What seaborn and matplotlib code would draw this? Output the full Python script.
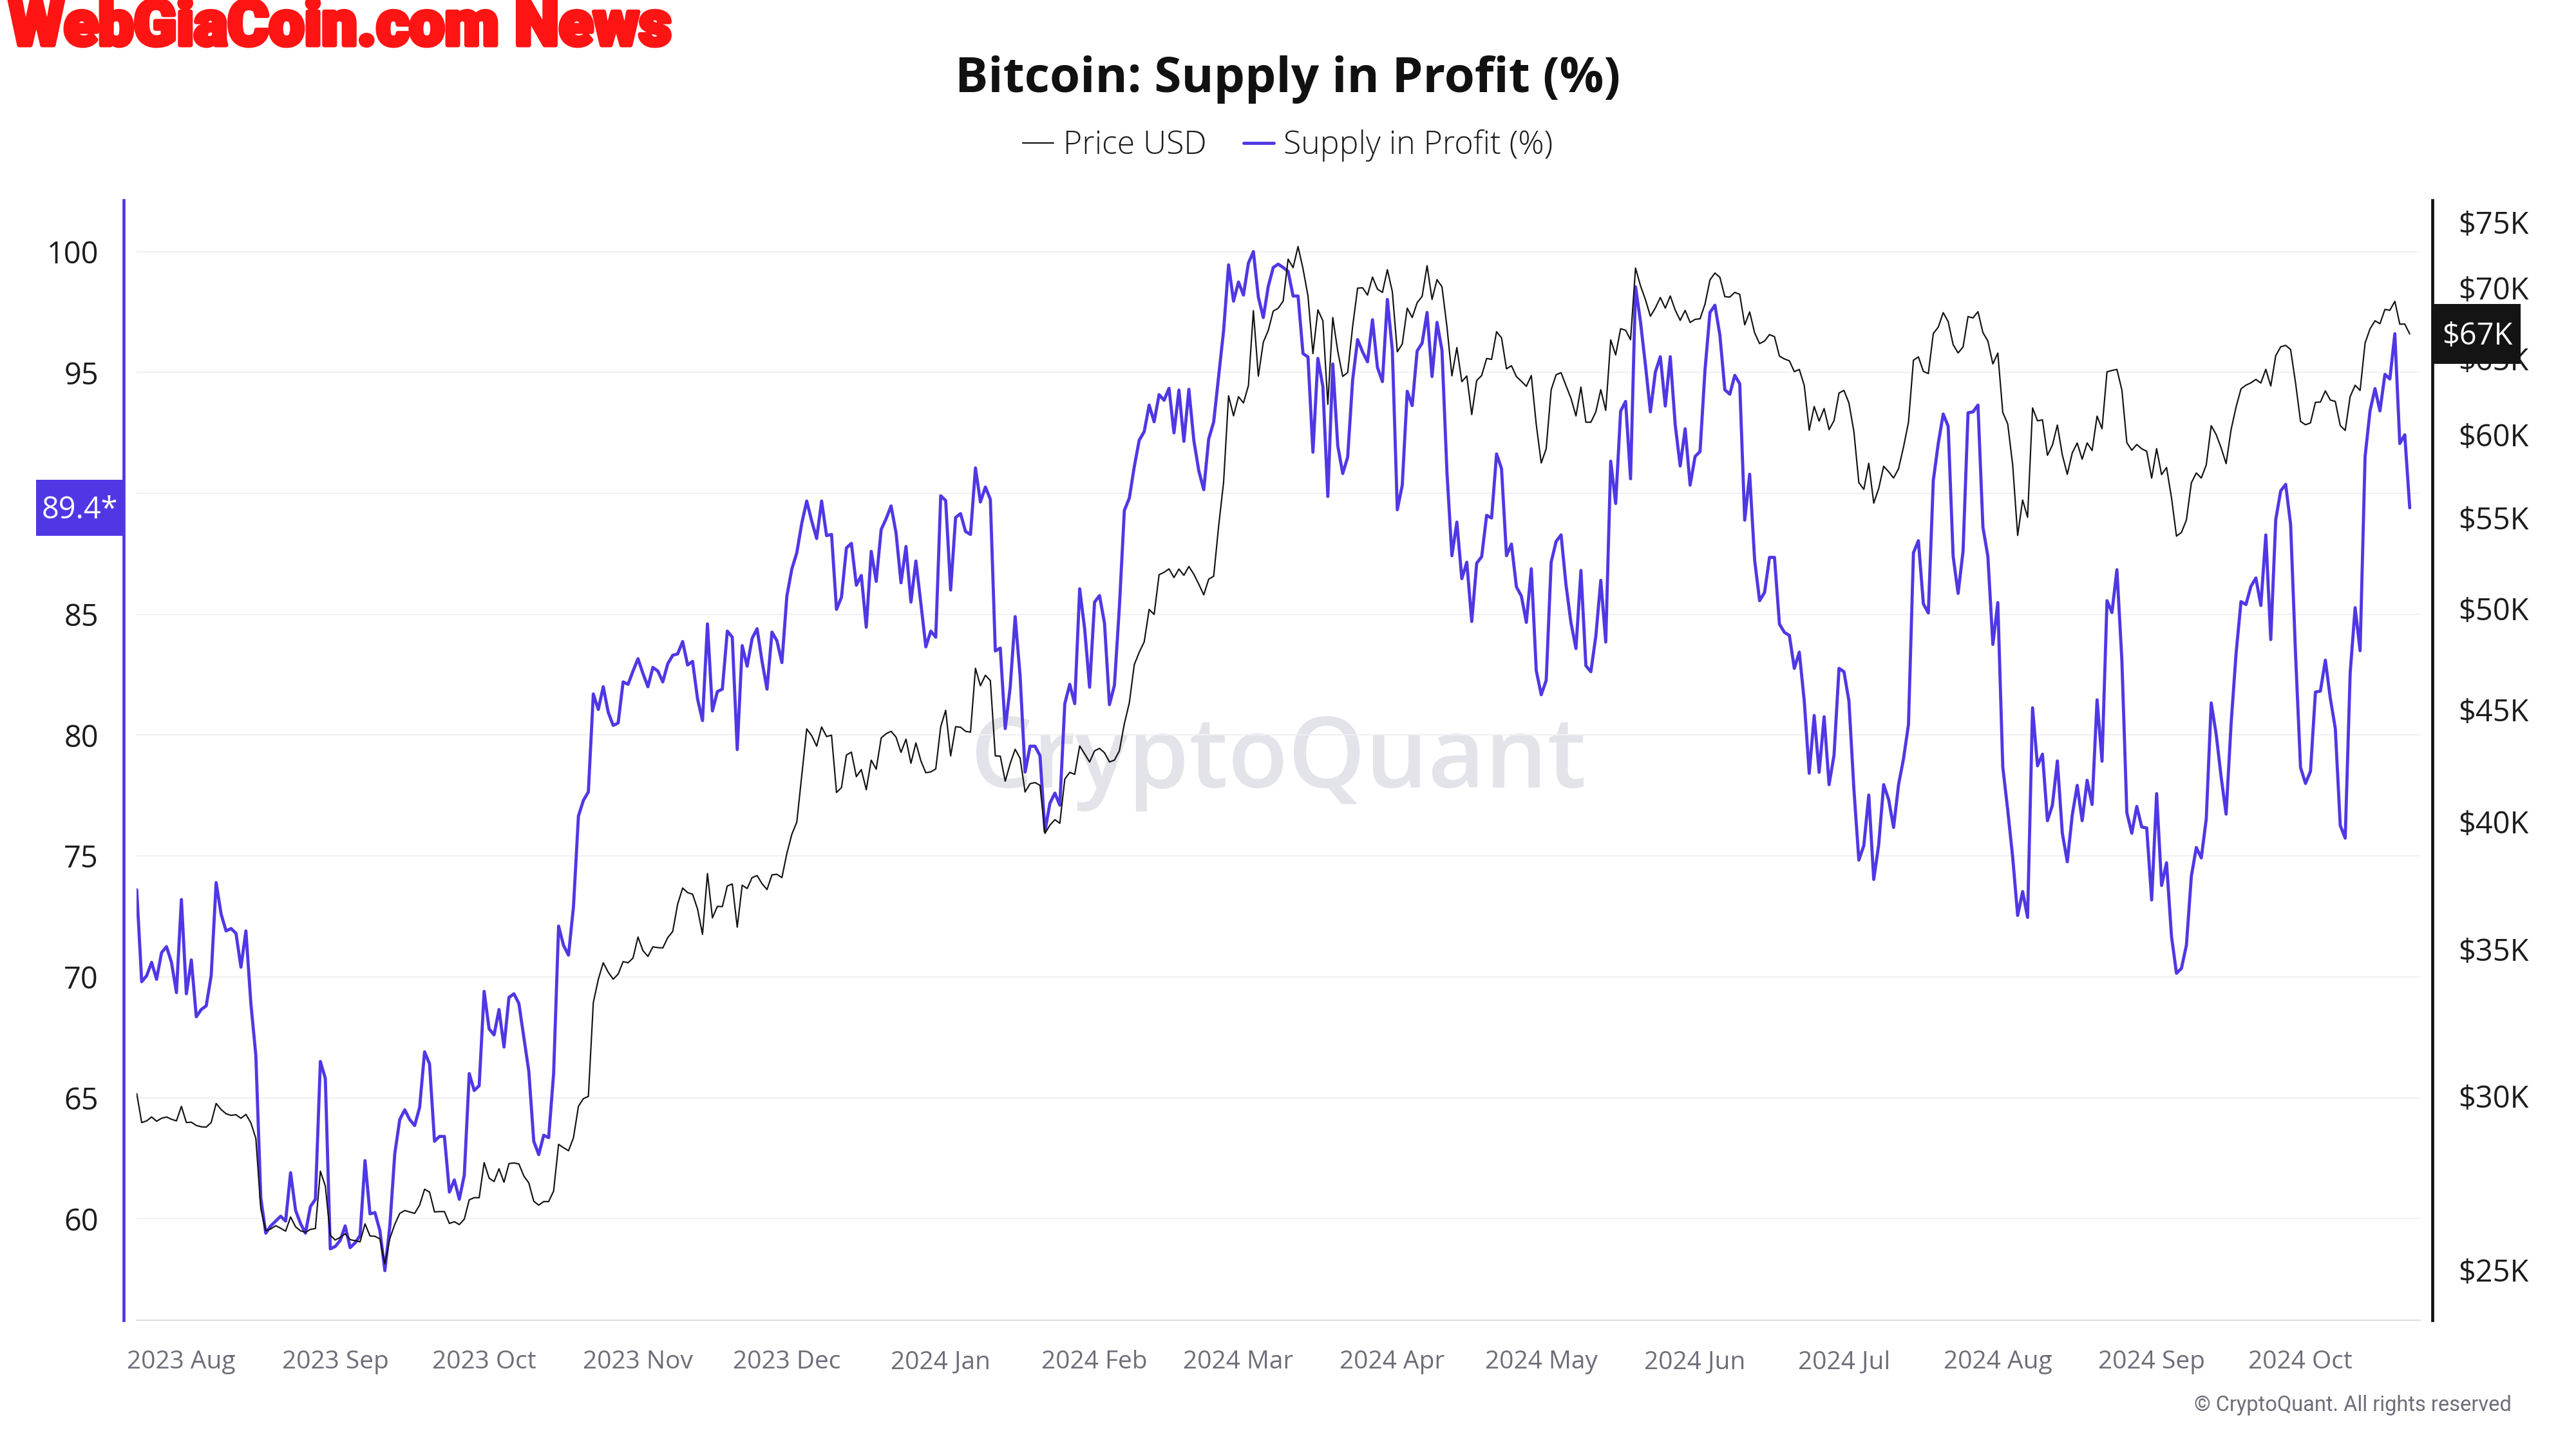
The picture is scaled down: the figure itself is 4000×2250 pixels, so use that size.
import numpy as np
import pandas as pd
import matplotlib
matplotlib.use("Agg")
import matplotlib.pyplot as plt
import matplotlib.dates as mdates
import matplotlib.ticker as mticker
import matplotlib.patheffects as pe
import matplotlib.transforms as mtransforms
from matplotlib.patches import Rectangle
import seaborn as sns

# ---------------- data (daily) ----------------
START_DATE = "2023-07-23"
END_DATE = "2024-10-23"

# Supply in Profit (%)
supply_2023_07 = [73.6, 69.8, 70.05, 70.6, 69.9, 71.0, 71.25, 70.6, 69.35]
supply_2023_08 = [73.2, 69.3, 70.7, 68.35, 68.65, 68.8, 70.05, 73.9, 72.6, 71.9, 72.0, 71.8, 70.4, 71.9,
                  68.9, 66.75, 60.85, 59.4, 59.7, 59.9, 60.1, 59.9, 61.9, 60.35, 59.8, 59.4, 60.5, 60.8,
                  66.5, 65.8, 58.75]
supply_2023_09 = [58.85, 59.1, 59.7, 58.8, 59.0, 59.3, 62.4, 60.2, 60.25, 59.5, 57.85, 59.7, 62.7, 64.1,
                  64.5, 64.1, 63.85, 64.6, 66.9, 66.4, 63.2, 63.4, 63.4, 61.1, 61.6, 60.8, 61.8, 66.0,
                  65.3, 65.5]
supply_2023_10 = [69.4, 67.85, 67.6, 68.65, 67.1, 69.15, 69.3, 68.9, 67.5, 66.1, 63.2, 62.65, 63.45, 63.35,
                  66.0, 72.1, 71.3, 70.9, 72.9, 76.65, 77.3, 77.65, 81.7, 81.06, 82.0, 80.95, 80.4, 80.5,
                  82.2, 82.1, 82.65]
supply_2023_11 = [83.16, 82.55, 82.0, 82.8, 82.65, 82.2, 82.95, 83.3, 83.36, 83.87, 82.9, 83.05, 81.5, 80.6,
                  84.6, 81.0, 81.8, 81.9, 84.3, 84.05, 79.4, 83.7, 82.85, 84.0, 84.4, 83.05, 81.9, 84.26,
                  83.9, 83.0]
supply_2023_12 = [85.75, 86.87, 87.54, 88.76, 89.68, 88.86, 88.13, 89.68, 88.25, 88.3, 85.2, 85.7, 87.74,
                  87.93, 86.2, 86.6, 84.46, 87.6, 86.36, 88.5, 88.95, 89.48, 88.36, 86.3, 87.8, 85.5, 87.2,
                  85.45, 83.65, 84.3, 84.05]
supply_2024_01 = [89.9, 89.7, 86.0, 89.0, 89.16, 88.42, 88.3, 91.05, 89.64, 90.26, 89.75, 83.48, 83.6, 80.27,
                  81.98, 84.9, 82.44, 78.47, 79.54, 79.54, 79.15, 76.02, 77.18, 77.6, 77.1, 81.3, 82.1, 81.3,
                  86.05, 84.4, 81.98]
supply_2024_02 = [85.5, 85.77, 84.63, 81.26, 82.06, 85.3, 89.29, 89.8, 91.1, 92.2, 92.55, 93.65, 92.96, 94.08,
                  93.85, 94.34, 92.5, 94.27, 92.15, 94.3, 92.19, 90.93, 90.15, 92.25, 92.95, 94.85, 96.73,
                  99.45, 97.95]
supply_2024_03 = [98.74, 98.2, 99.52, 100.0, 98.12, 97.27, 98.56, 99.34, 99.48, 99.34, 99.18, 98.16, 98.16,
                  95.78, 95.64, 91.7, 95.58, 94.42, 89.87, 95.35, 91.97, 90.82, 91.5, 94.69, 96.36, 95.85,
                  95.44, 97.18, 95.21, 94.62, 98.02]
supply_2024_04 = [95.92, 89.32, 90.34, 94.22, 93.63, 95.89, 96.21, 97.48, 94.83, 97.07, 95.92, 90.89, 87.42,
                  88.81, 86.47, 87.15, 84.7, 87.11, 87.38, 89.09, 88.98, 91.63, 91.02, 87.42, 87.9, 86.13,
                  85.75, 84.66, 86.88, 82.67]
supply_2024_05 = [81.67, 82.26, 87.15, 88.01, 88.28, 86.2, 84.64, 83.58, 86.81, 82.87, 82.62, 84.09, 86.4,
                  83.85, 91.33, 89.58, 93.4, 93.8, 90.6, 98.54, 97.1, 95.3, 93.37, 95.02, 95.65, 93.61, 95.65,
                  92.83, 91.13, 92.67, 90.34]
supply_2024_06 = [91.52, 91.73, 95.1, 97.48, 97.78, 96.54, 94.28, 94.1, 94.88, 94.53, 88.89, 90.79, 87.24,
                  85.56, 85.9, 87.35, 87.35, 84.59, 84.25, 84.12, 82.76, 83.43, 81.41, 78.42, 80.81, 78.46,
                  80.76, 77.95, 79.17, 82.76]
supply_2024_07 = [82.62, 81.41, 77.77, 74.83, 75.43, 77.52, 74.03, 75.47, 77.95, 77.34, 76.18, 77.95, 79.02,
                  80.44, 87.54, 88.04, 85.43, 85.05, 90.53, 92.06, 93.28, 92.77, 87.39, 85.86, 87.61, 93.33,
                  93.37, 93.65, 88.6, 87.39, 83.75]
supply_2024_08 = [85.48, 78.68, 76.9, 74.94, 72.54, 73.53, 72.46, 81.13, 78.73, 79.21, 76.46, 77.1, 78.93,
                  75.94, 74.76, 76.69, 77.92, 76.46, 78.13, 77.13, 81.46, 78.92, 85.56, 85.07, 86.84, 83.1,
                  76.79, 75.94, 77.05, 76.2, 76.16]
supply_2024_09 = [73.18, 77.58, 73.78, 74.72, 71.67, 70.15, 70.35, 71.31, 74.17, 75.35, 74.92, 76.53, 81.33,
                  80.04, 78.27, 76.73, 80.44, 83.35, 85.52, 85.4, 86.15, 86.5, 85.36, 88.28, 83.95, 88.91,
                  90.1, 90.37, 88.71, 83.3]
supply_2024_10 = [78.66, 78.0, 78.5, 81.78, 81.82, 83.1, 81.52, 80.28, 76.26, 75.74, 82.57, 85.27, 83.49,
                  91.51, 93.41, 94.33, 93.41, 94.92, 94.73, 96.6, 92.06, 92.42, 89.4]

# Price USD (thousands)
price_2023_07 = [30.08, 29.18, 29.23, 29.35, 29.22, 29.31, 29.35, 29.28, 29.23]
price_2023_08 = [29.68, 29.18, 29.19, 29.09, 29.05, 29.04, 29.18, 29.77, 29.58, 29.45, 29.40, 29.42, 29.31,
                 29.43, 29.17, 28.70, 26.66, 26.05, 26.10, 26.19, 26.12, 26.04, 26.43, 26.16, 26.05, 26.01,
                 26.09, 26.11, 27.73, 27.30, 25.93]
price_2023_09 = [25.80, 25.87, 25.97, 25.81, 25.78, 25.75, 26.24, 25.91, 25.90, 25.83, 25.16, 25.84, 26.23,
                 26.53, 26.61, 26.57, 26.53, 26.76, 27.21, 27.13, 26.57, 26.58, 26.58, 26.25, 26.30, 26.22,
                 26.37, 26.91, 26.97, 26.97]
price_2023_10 = [27.98, 27.53, 27.43, 27.80, 27.41, 27.95, 27.97, 27.94, 27.59, 27.39, 26.87, 26.76, 26.86,
                 26.86, 27.16, 28.52, 28.42, 28.33, 28.72, 29.68, 29.92, 29.99, 33.09, 33.90, 34.50, 34.16,
                 33.91, 34.09, 34.54, 34.50, 34.67]
price_2023_11 = [35.44, 34.94, 34.73, 35.08, 35.05, 35.04, 35.42, 35.65, 36.69, 37.31, 37.13, 37.07, 36.50,
                 35.54, 37.88, 36.16, 36.60, 36.59, 37.39, 37.47, 35.81, 37.42, 37.29, 37.72, 37.80, 37.48,
                 37.25, 37.83, 37.85, 37.72]
price_2023_12 = [38.69, 39.47, 39.98, 41.98, 44.08, 43.77, 43.29, 44.17, 43.73, 43.79, 41.24, 41.45, 42.89,
                 43.02, 41.93, 42.24, 41.36, 42.66, 42.26, 43.66, 43.86, 43.97, 43.70, 43.01, 43.61, 42.52,
                 43.44, 42.63, 42.10, 42.14, 42.27]
price_2024_01 = [44.18, 44.95, 42.85, 44.18, 44.16, 43.97, 43.93, 46.97, 46.12, 46.63, 46.37, 42.85, 42.84,
                 41.73, 42.51, 43.15, 42.74, 41.26, 41.62, 41.67, 41.55, 39.51, 39.85, 40.08, 39.93, 41.82,
                 42.12, 42.03, 43.30, 42.94, 42.58]
price_2024_02 = [43.08, 43.19, 42.99, 42.58, 42.66, 43.08, 44.32, 45.30, 47.15, 47.77, 48.29, 49.96, 49.70,
                 51.81, 51.94, 52.13, 51.66, 52.12, 51.78, 52.26, 51.84, 51.30, 50.73, 51.57, 51.73, 54.52,
                 57.09, 62.50, 61.20]
price_2024_03 = [62.44, 62.03, 63.17, 68.33, 63.80, 66.11, 66.93, 68.30, 68.50, 69.02, 72.12, 71.48, 73.08,
                 71.40, 69.40, 65.32, 68.39, 67.61, 61.94, 67.84, 65.49, 63.78, 64.04, 67.21, 69.96, 69.99,
                 69.46, 70.78, 69.89, 69.65, 71.33]
price_2024_04 = [69.70, 65.45, 65.98, 68.51, 67.84, 68.90, 69.36, 71.63, 69.14, 70.59, 70.06, 67.20, 63.82,
                 65.74, 63.43, 63.81, 61.28, 63.51, 63.84, 64.99, 64.93, 66.84, 66.41, 64.29, 64.50, 63.77,
                 63.46, 63.12, 63.84, 60.64]
price_2024_05 = [58.25, 59.12, 62.89, 63.89, 64.03, 63.16, 62.33, 61.19, 63.07, 60.79, 60.79, 61.45, 62.90,
                 61.55, 66.27, 65.23, 67.05, 66.94, 66.28, 71.45, 70.14, 69.12, 67.93, 68.53, 69.28, 68.51,
                 69.39, 68.37, 67.64, 68.35, 67.49]
price_2024_06 = [67.71, 67.75, 68.80, 70.57, 71.08, 70.76, 69.34, 69.31, 69.65, 69.51, 67.32, 68.24, 66.76,
                 66.01, 66.19, 66.64, 66.49, 65.15, 64.96, 64.83, 64.10, 64.25, 63.18, 60.28, 61.80, 60.86,
                 61.67, 60.32, 60.89, 62.68]
price_2024_07 = [62.85, 62.03, 60.20, 57.06, 56.66, 58.23, 55.85, 56.71, 58.05, 57.72, 57.34, 57.90, 59.23,
                 60.79, 64.87, 65.10, 64.12, 63.97, 66.71, 67.16, 68.19, 67.55, 65.94, 65.37, 65.78, 67.91,
                 67.81, 68.26, 66.78, 66.19, 64.62]
price_2024_08 = [65.36, 61.42, 60.68, 58.12, 53.99, 56.03, 55.03, 61.71, 60.88, 60.94, 58.72, 59.35, 60.61,
                 58.74, 57.56, 58.87, 59.48, 58.48, 59.49, 59.01, 61.18, 60.38, 64.09, 64.18, 64.25, 62.88,
                 59.50, 59.03, 59.39, 59.12, 58.97]
price_2024_09 = [57.33, 59.13, 57.54, 57.97, 56.16, 53.95, 54.16, 54.87, 57.05, 57.64, 57.34, 58.13, 60.57,
                 60.01, 59.18, 58.21, 60.31, 61.76, 62.95, 63.20, 63.35, 63.58, 63.34, 64.26, 63.14, 65.18,
                 65.79, 65.89, 65.60, 63.33]
price_2024_10 = [60.84, 60.63, 60.75, 62.07, 62.09, 62.82, 62.22, 62.13, 60.58, 60.27, 62.45, 63.19, 62.85,
                 66.04, 67.04, 67.61, 67.40, 68.42, 68.36, 69.00, 67.37, 67.38, 66.68]

left_ticks = [60, 65, 70, 75, 80, 85, 90, 95, 100]
right_ticks = [25000, 30000, 35000, 40000, 45000, 50000, 55000, 60000, 65000, 70000, 75000]
right_labels = ["$25K", "$30K", "$35K", "$40K", "$45K", "$50K", "$55K", "$60K", "$65K", "$70K", "$75K"]
series_names = ["Price USD", "Supply in Profit (%)"]

supply_months = [supply_2023_07, supply_2023_08, supply_2023_09, supply_2023_10, supply_2023_11,
                 supply_2023_12, supply_2024_01, supply_2024_02, supply_2024_03, supply_2024_04,
                 supply_2024_05, supply_2024_06, supply_2024_07, supply_2024_08, supply_2024_09,
                 supply_2024_10]
price_months = [price_2023_07, price_2023_08, price_2023_09, price_2023_10, price_2023_11, price_2023_12,
                price_2024_01, price_2024_02, price_2024_03, price_2024_04, price_2024_05, price_2024_06,
                price_2024_07, price_2024_08, price_2024_09, price_2024_10]

supply_pct = [v for m in supply_months for v in m]
price_k = [v for m in price_months for v in m]
dates = pd.date_range(START_DATE, END_DATE, freq="D")
assert len(dates) == len(supply_pct) == len(price_k), (len(dates), len(supply_pct), len(price_k))

df = pd.DataFrame({"date": dates, "supply": supply_pct, "price": np.array(price_k) * 1000.0})

month_ticks = pd.date_range("2023-08-01", "2024-10-01", freq="MS")
month_labels = [d.strftime("%Y %b") for d in month_ticks]

# ---------------- style ----------------
PURPLE = "#4F38E4"
BLACK = "#121212"
W, H, DPI = 4000, 2250, 250
PT = 72.0 / DPI  # points per pixel

sns.set_theme(style="white")
plt.rcParams["font.family"] = ["Open Sans", "DejaVu Sans"]

fig = plt.figure(figsize=(W / DPI, H / DPI), dpi=DPI)
fig.patch.set_facecolor("white")


def fx(px):
    return px / W


def fy(py):
    return 1.0 - py / H


ax = fig.add_axes([fx(212), fy(2050), fx(3758) - fx(212), fy(311) - fy(2050)])
ax2 = ax.twinx()

sns.lineplot(data=df, x="date", y="supply", ax=ax, color=PURPLE, linewidth=1.4,
             legend=False, errorbar=None, zorder=3)
sns.lineplot(data=df, x="date", y="price", ax=ax2, color=BLACK, linewidth=0.62,
             legend=False, errorbar=None, zorder=3)

# limits
ax.set_xlim(dates[0] - pd.Timedelta(hours=1), dates[-1] + pd.Timedelta(days=2.1))
ax.set_ylim(55.8, 102.12)
ax2.set_yscale("log")
ax2.set_ylim(23720, 76710)

# ticks
ax.set_yticks(left_ticks)
ax.set_yticklabels([str(t) for t in left_ticks])
ax.set_xticks(month_ticks)
ax.set_xticklabels(month_labels)
ax2.yaxis.set_major_locator(mticker.FixedLocator(right_ticks))
ax2.yaxis.set_major_formatter(mticker.FixedFormatter(right_labels))
ax2.yaxis.set_minor_locator(mticker.NullLocator())

ax.set_xlabel("")
ax.set_ylabel("")
ax2.set_ylabel("")

ax.tick_params(axis="y", length=0, pad=39 * PT, labelsize=13.5, labelcolor="#1c1c1c")
ax.tick_params(axis="x", length=24 * PT, width=2 * PT, color="#d6d6de", pad=22 * PT,
               labelsize=11.2, labelcolor="#6e6e7a")
ax2.tick_params(axis="y", which="both", length=0, pad=40 * PT, labelsize=13.5, labelcolor="#1c1c1c")

# spines
ax.spines["top"].set_visible(False)
ax.spines["right"].set_visible(False)
ax.spines["left"].set_position(("outward", 20 * PT))
ax.spines["left"].set_color(PURPLE)
ax.spines["left"].set_linewidth(4.7 * PT)
ax.spines["bottom"].set_color("#dcdce4")
ax.spines["bottom"].set_linewidth(2 * PT)
for s in ["top", "left", "bottom"]:
    ax2.spines[s].set_visible(False)
ax2.spines["right"].set_position(("outward", 19 * PT))
ax2.spines["right"].set_color(BLACK)
ax2.spines["right"].set_linewidth(4.7 * PT)

# grid
ax.yaxis.grid(True, color="#f0f0f4", linewidth=2 * PT)
ax.xaxis.grid(False)
ax.set_axisbelow(True)

# watermark
ax.text(fx(1985), fy(1223), "CryptoQuant", transform=fig.transFigure, ha="center", va="baseline",
        fontsize=44, fontweight="semibold", color="#e3e3ea", zorder=0.5)

# title & legend
fig.text(0.5, fy(143), "Bitcoin: Supply in Profit (%)", ha="center", va="baseline",
         fontsize=22, fontweight="bold", color="#111111")
h_price = ax2.get_lines()[0]
h_supply = ax.get_lines()[0]
fig.legend([h_price, h_supply], series_names, loc="center", bbox_to_anchor=(0.5, fy(226)),
           ncol=2, frameon=False, handlelength=0.95, handletextpad=0.3, columnspacing=1.15,
           prop={"family": ["Open Sans", "DejaVu Sans"], "size": 14.4, "weight": "light"},
           labelcolor="#1c1c1c")

# value badges
ident = mtransforms.IdentityTransform()
fig.canvas.draw()
x_last = mdates.date2num(dates[-1])
y_sup = ax.transData.transform((x_last, supply_pct[-1]))[1]
y_pr = ax2.transData.transform((x_last, price_k[-1] * 1000.0))[1]
cap = 0.714 * 13.5 / PT

fig.add_artist(Rectangle((56, y_sup - 43.5), 136, 87, transform=ident, facecolor=PURPLE,
                         edgecolor="none", zorder=5))
fig.text(124 / W, (y_sup - cap / 2) / H, f"{supply_pct[-1]:.1f}*", ha="center", va="baseline",
         fontsize=13.5, color="white", zorder=6)
fig.add_artist(Rectangle((3779, y_pr - 46.5), 135, 93, transform=ident, facecolor="#141414",
                         edgecolor="none", zorder=5))
fig.text(3847 / W, (y_pr - cap / 2) / H, f"${price_k[-1]:.0f}K", ha="center", va="baseline",
         fontsize=13.5, color="white", zorder=6)

# branding texts
fig.text(fx(14), fy(70), "WebGiaCoin.com News", ha="left", va="baseline", fontsize=28.2,
         fontweight="black", color="#FF1414", family=["Roboto", "DejaVu Sans"],
         path_effects=[pe.withStroke(linewidth=2.0, foreground="#FF1414")])
fig.text(fx(3900), fy(2182), "\u00a9 CryptoQuant. All rights reserved", ha="right", va="center",
         fontsize=9.4, color="#6e6e7a", family=["Roboto", "DejaVu Sans"])

fig.savefig("out.png", dpi=DPI, facecolor="white")
